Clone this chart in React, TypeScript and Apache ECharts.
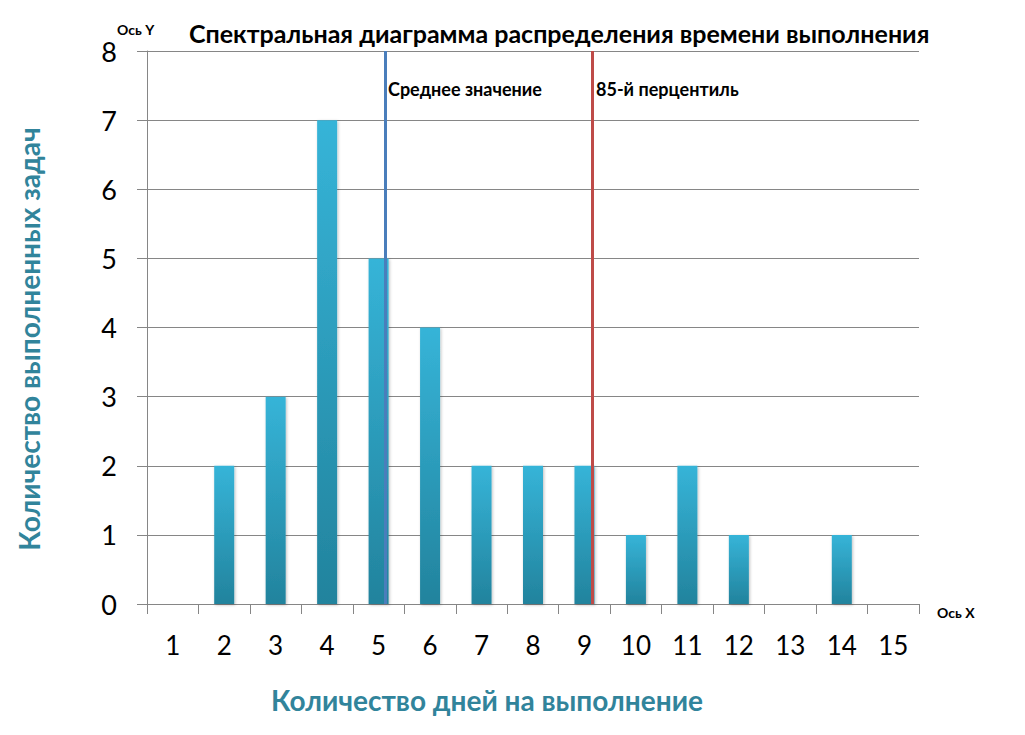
import React, { useEffect, useRef } from "react";
import * as echarts from "echarts";

const categories = ["1", "2", "3", "4", "5", "6", "7", "8", "9", "10", "11", "12", "13", "14", "15"];
const counts = [0, 2, 3, 7, 5, 4, 2, 2, 2, 1, 2, 1, 0, 1, 0];
const meanValue = 5.12;
const percentile85 = 9.16;
const titleText = "Спектральная диаграмма распределения времени выполнения";
const xName = "Количество дней на выполнение";
const yName = "Количество выполненных задач";
const meanLabel = "Среднее значение";
const pctLabel = "85-й перцентиль";

const FONT = "Lato, 'Noto Sans', sans-serif";
const TEAL = "#31849b";
const GRID = "#868686";

export default function App() {
  const ref = useRef<HTMLDivElement>(null);
  useEffect(() => {
    const chart = echarts.init(ref.current!, null, { renderer: "svg" });
    chart.setOption({
      animation: false,
      textStyle: { fontFamily: FONT },
      grid: { left: 147, top: 51, width: 772, height: 553, containLabel: false },
      xAxis: [
        {
          type: "category",
          data: categories,
          boundaryGap: true,
          axisLine: { lineStyle: { color: GRID, width: 1 } },
          axisTick: { show: true, length: 10, interval: 0, lineStyle: { color: GRID } },
          axisLabel: { fontSize: 26, color: "#000", margin: 28, fontFamily: FONT },
          splitLine: { show: false },
        },
        { type: "value", min: 0.5, max: 15.5, show: false },
      ],
      yAxis: {
        type: "value",
        min: 0,
        max: 8,
        interval: 1,
        axisLine: { show: true, lineStyle: { color: GRID, width: 1 } },
        axisTick: { show: true, length: 10, lineStyle: { color: GRID } },
        axisLabel: { fontSize: 27, color: "#000", margin: 30, fontFamily: FONT },
        splitLine: { show: true, lineStyle: { color: GRID, width: 1 } },
      },
      series: [
        {
          type: "bar",
          data: counts,
          barWidth: 20,
          itemStyle: {
            color: new echarts.graphic.LinearGradient(0, 0, 0, 1, [
              { offset: 0, color: "#36b4d8" },
              { offset: 1, color: "#22839d" },
            ]),
            shadowBlur: 3,
            shadowColor: "rgba(0,0,0,0.25)",
            shadowOffsetX: 1,
            shadowOffsetY: 1,
          },
        },
        {
          type: "line",
          xAxisIndex: 1,
          data: [],
          markLine: {
            symbol: ["none", "none"],
            silent: true,
            label: { show: false },
            data: [
              { xAxis: meanValue, lineStyle: { color: "#4a7ebb", width: 3, type: "solid" } },
              { xAxis: percentile85, lineStyle: { color: "#be4b48", width: 3, type: "solid" } },
            ],
          },
        },
      ],
      graphic: [
        {
          type: "text",
          x: 189,
          y: 33,
          style: { text: titleText, font: `bold 25px ${FONT}`, fill: "#000", verticalAlign: "middle" },
        },
        {
          type: "text",
          x: 117,
          y: 29,
          style: { text: "Ось Y", font: `bold 14px ${FONT}`, fill: "#000", verticalAlign: "middle" },
        },
        {
          type: "text",
          x: 937,
          y: 612,
          style: { text: "Ось X", font: `bold 14px ${FONT}`, fill: "#000", verticalAlign: "middle" },
        },
        {
          type: "text",
          x: 388,
          y: 89,
          style: { text: meanLabel, font: `bold 18px ${FONT}`, fill: "#000", verticalAlign: "middle" },
        },
        {
          type: "text",
          x: 596,
          y: 89,
          style: { text: pctLabel, font: `bold 18px ${FONT}`, fill: "#000", verticalAlign: "middle" },
        },
        {
          type: "text",
          x: 487,
          y: 700,
          style: { text: xName, font: `bold 28px ${FONT}`, fill: TEAL, align: "center", verticalAlign: "middle" },
        },
        {
          type: "text",
          x: 29,
          y: 339,
          rotation: Math.PI / 2,
          style: { text: yName, font: `bold 28px ${FONT}`, fill: TEAL, align: "center", verticalAlign: "middle" },
        },
      ],
    });
    return () => chart.dispose();
  }, []);
  return <div ref={ref} style={{ width: 1025, height: 735, position: "absolute", left: 0, top: 0 }} />;
}
